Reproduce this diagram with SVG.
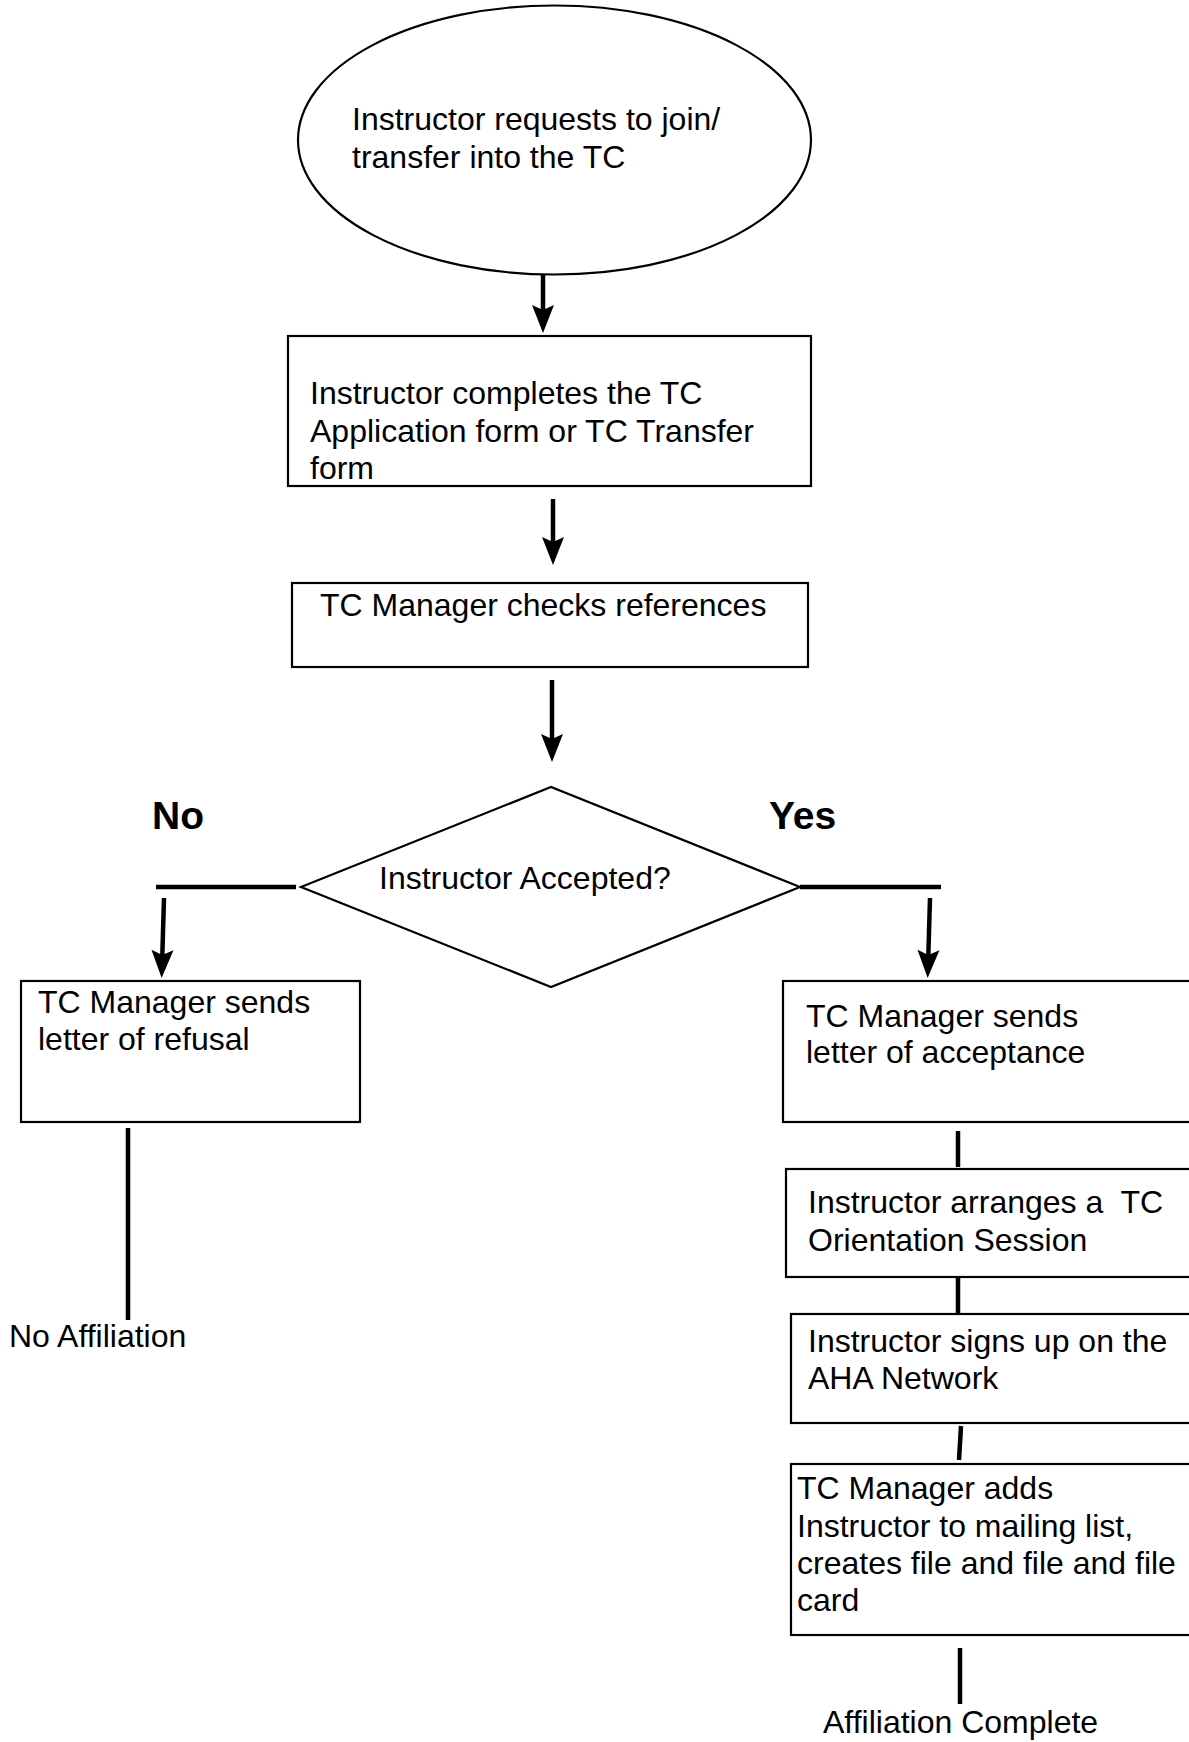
<svg xmlns="http://www.w3.org/2000/svg" width="1189" height="1742" viewBox="0 0 1189 1742">
<style>
.shape{fill:#fff;stroke:#000;stroke-width:2.2}
.t{font-family:"Liberation Sans",Arial,Helvetica,sans-serif;font-size:32px;fill:#000}
.b{font-family:"Liberation Sans",Arial,Helvetica,sans-serif;font-size:39px;font-weight:bold;fill:#000}
.c{fill:none;stroke:#000;stroke-width:4.5}
</style>
<defs>
<marker id="ah" markerUnits="userSpaceOnUse" viewBox="-1 -12 30 24" markerWidth="30" markerHeight="24" refX="16" refY="0" orient="auto">
<path d="M0,-11 L28,0 L0,11 L5,0 Z" fill="#000"/>
</marker>
</defs>
<rect width="1189" height="1742" fill="#fff"/>
<g id="start">
<ellipse class="shape" cx="554.5" cy="140" rx="256.5" ry="134.5"/>
<text class="t" x="352" y="130">Instructor requests to join/</text>
<text class="t" x="352" y="168">transfer into the TC</text>
</g>
<g id="apply">
<rect class="shape" x="288" y="336" width="523" height="150"/>
<text class="t" x="310" y="404">Instructor completes the TC</text>
<text class="t" x="310" y="442">Application form or TC Transfer</text>
<text class="t" x="310" y="479">form</text>
</g>
<g id="refs">
<rect class="shape" x="292" y="583" width="516" height="84"/>
<text class="t" x="320" y="616">TC Manager checks references</text>
</g>
<g id="decision">
<polygon class="shape" points="301,887 551,787 800,887 551,987"/>
<text class="t" x="379" y="889">Instructor Accepted?</text>
</g>
<g id="label-no"><text class="b" x="152" y="829">No</text></g>
<g id="label-yes"><text class="b" x="769" y="829">Yes</text></g>
<g id="refusal">
<rect class="shape" x="21" y="981" width="339" height="141"/>
<text class="t" x="38" y="1013">TC Manager sends</text>
<text class="t" x="38" y="1050">letter of refusal</text>
</g>
<g id="no-affiliation"><text class="t" x="9" y="1347">No Affiliation</text></g>
<g id="acceptance">
<rect class="shape" x="783" y="981" width="410" height="141"/>
<text class="t" x="806" y="1027">TC Manager sends</text>
<text class="t" x="806" y="1063">letter of acceptance</text>
</g>
<g id="orientation">
<rect class="shape" x="786" y="1169" width="410" height="108"/>
<text class="t" x="808" y="1213" xml:space="preserve">Instructor arranges a  TC</text>
<text class="t" x="808" y="1251">Orientation Session</text>
</g>
<g id="signup">
<rect class="shape" x="791" y="1314" width="405" height="109"/>
<text class="t" x="808" y="1352">Instructor signs up on the</text>
<text class="t" x="808" y="1389">AHA Network</text>
</g>
<g id="mailing">
<rect class="shape" x="791" y="1464" width="405" height="171"/>
<text class="t" x="797" y="1499">TC Manager adds</text>
<text class="t" x="797" y="1537">Instructor to mailing list,</text>
<text class="t" x="797" y="1574">creates file and file and file</text>
<text class="t" x="797" y="1611">card</text>
</g>
<g id="complete"><text class="t" x="823" y="1733">Affiliation Complete</text></g>
<g id="connectors">
<line class="c" x1="543" y1="275" x2="543" y2="321" marker-end="url(#ah)"/>
<line class="c" x1="553" y1="499" x2="553" y2="553" marker-end="url(#ah)"/>
<line class="c" x1="552" y1="680" x2="552" y2="750" marker-end="url(#ah)"/>
<line class="c" x1="156" y1="887" x2="296" y2="887"/>
<line class="c" x1="164" y1="898" x2="162" y2="966" marker-end="url(#ah)"/>
<line class="c" x1="128" y1="1128" x2="128" y2="1320"/>
<line class="c" x1="800" y1="887" x2="941" y2="887"/>
<line class="c" x1="930" y1="898" x2="928" y2="966" marker-end="url(#ah)"/>
<line class="c" x1="958" y1="1131" x2="958" y2="1167"/>
<line class="c" x1="958" y1="1277" x2="958" y2="1313"/>
<line class="c" x1="961" y1="1426" x2="959" y2="1460"/>
<line class="c" x1="960" y1="1648" x2="960" y2="1704"/>
</g>
</svg>
